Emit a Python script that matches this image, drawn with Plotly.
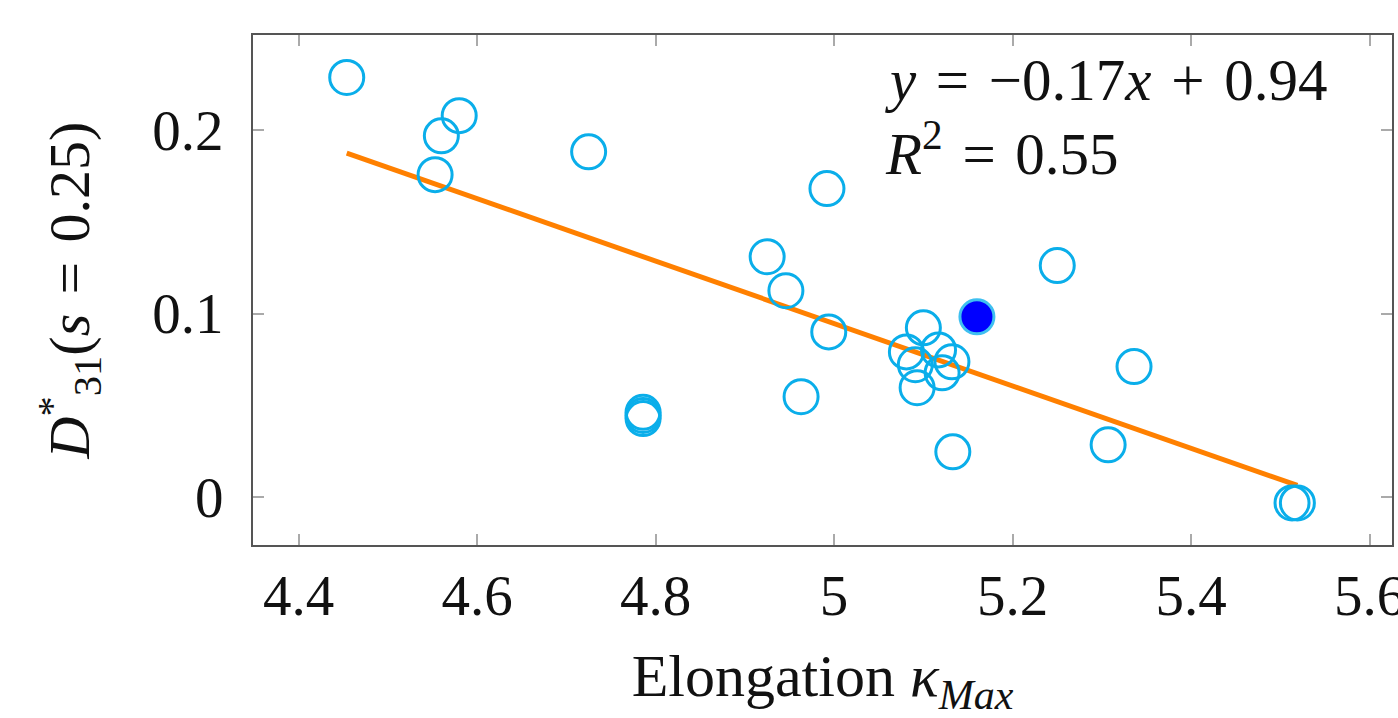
import numpy as np
import plotly.graph_objects as go

# Elongation (kappa_max) vs. D*_31 at s = 0.25
elongation = [4.454, 4.560, 4.580, 4.553, 4.725, 4.992, 4.925, 4.946, 4.994,
              4.786, 4.786, 4.786, 4.963, 5.100, 5.081, 5.117, 5.091, 5.132,
              5.121, 5.093, 5.133, 5.250, 5.336, 5.307, 5.513, 5.519]
d31 = [0.2285, 0.1967, 0.2077, 0.1756, 0.1880, 0.1680, 0.1309, 0.1124, 0.0900,
       0.0462, 0.0445, 0.0428, 0.0547, 0.0922, 0.0791, 0.0802, 0.0721, 0.0737,
       0.0677, 0.0596, 0.0247, 0.1261, 0.0711, 0.0285, -0.0031, -0.0031]

# Highlighted case
highlight_x = [5.160]
highlight_y = [0.0982]

x_ticks = [4.4, 4.6, 4.8, 5.0, 5.2, 5.4, 5.6]
x_tick_text = ["4.4", "4.6", "4.8", "5", "5.2", "5.4", "5.6"]
y_ticks = [0.0, 0.1, 0.2]
y_tick_text = ["0", "0.1", "0.2"]

# Least-squares linear fit over all cases
all_x = np.array(elongation + highlight_x)
all_y = np.array(d31 + highlight_y)
slope, intercept = np.polyfit(all_x, all_y, 1)
fit_x = np.array([all_x.min(), all_x.max()])
fit_y = slope * fit_x + intercept

FONT = "Liberation Serif"
CYAN = "#0AAEEA"
ORANGE = "#FF8000"
INK = "#111111"
SP = "\u2004"  # three-per-em space, for math-style operator spacing

fig = go.Figure()

fig.add_trace(go.Scatter(
    x=fit_x, y=fit_y, mode="lines",
    line=dict(color=ORANGE, width=5),
    showlegend=False, hoverinfo="skip",
))

fig.add_trace(go.Scatter(
    x=elongation, y=d31, mode="markers",
    marker=dict(symbol="circle", size=34, color="rgba(0,0,0,0)",
                line=dict(color=CYAN, width=3)),
    showlegend=False,
))

fig.add_trace(go.Scatter(
    x=highlight_x, y=highlight_y, mode="markers",
    marker=dict(symbol="circle", size=34, color="#0000FF",
                line=dict(color="#3FC0F0", width=3)),
    showlegend=False,
))

axis_common = dict(
    showgrid=False, zeroline=False, automargin=False,
    showline=True, linecolor="#555555", linewidth=2,
    mirror="ticks", ticks="inside", ticklen=11, tickwidth=1.5,
    tickcolor="#AAAAAA", ticklabeloverflow="allow",
    tickfont=dict(family=FONT, size=57, color=INK),
)

fig.update_xaxes(
    range=[4.349, 5.625], tickvals=x_ticks, ticktext=x_tick_text,
    ticklabelstandoff=0,
    title=dict(text="Elongation <i>κ</i><sub><i>Max</i></sub>",
               font=dict(family=FONT, size=60, color=INK), standoff=46),
    **axis_common,
)
fig.update_yaxes(
    range=[-0.026, 0.2516], tickvals=y_ticks, ticktext=y_tick_text,
    ticklabelstandoff=16,
    title=dict(text=f"<i>D</i><sup>*</sup><sub>31</sub>(<i>s</i>{SP}={SP}0.25)",
               font=dict(family=FONT, size=58, color=INK), standoff=44),
    **axis_common,
)

fig.add_annotation(
    xref="paper", yref="paper", x=0.553, y=0.912, xanchor="left", yanchor="middle",
    text=f"<i>y</i>{SP}={SP}−0.17<i>x</i>{SP}+{SP}0.94", showarrow=False,
    font=dict(family=FONT, size=59, color=INK),
)
fig.add_annotation(
    xref="paper", yref="paper", x=0.553, y=0.776, xanchor="left", yanchor="middle",
    text=f"<i>R</i><sup>2</sup>{SP}={SP}0.55", showarrow=False,
    font=dict(family=FONT, size=59, color=INK),
)

fig.update_layout(
    width=1398, height=718,
    margin=dict(l=253, r=6, t=35, b=173),
    paper_bgcolor="white", plot_bgcolor="white",
)

fig.write_html("out.html")
